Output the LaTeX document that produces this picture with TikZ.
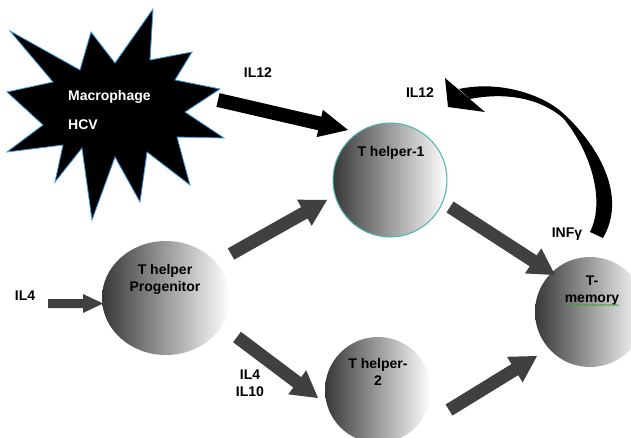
\documentclass[tikz,border=0pt]{standalone}
\usepackage{fontspec}
\setmainfont{Liberation Sans}
\usetikzlibrary{calc,shapes.geometric,decorations.pathmorphing}
\definecolor{arrgray}{HTML}{404040}
\definecolor{tealring}{HTML}{4BB5B5}
\definecolor{burstblue}{HTML}{3A9AE0}
\definecolor{spellgreen}{HTML}{3CA03C}
% #1 start, #2 tip, #3 half shaft width, #4 half head width, #5 head length, #6 colour
\newcommand\myblockarrow[6]{%
  \coordinate (bah) at ($(#2)!#5!(#1)$);
  \fill[#6] ($(#1)!#3!90:(#2)$) -- ($(bah)!#3!90:(#2)$) -- ($(bah)!#4!90:(#2)$) -- (#2)
    -- ($(bah)!#4!-90:(#2)$) -- ($(bah)!#3!-90:(#2)$) -- ($(#1)!#3!-90:(#2)$) -- cycle;}
\begin{document}
\begin{tikzpicture}[x=1pt,y=-1pt,
  lbl/.style={font=\fontsize{14}{17}\selectfont\bfseries, inner sep=0pt, align=center},
  cell/.style={inner sep=0pt, left color=black!78, middle color=black!38, right color=white}]
\useasboundingbox (0,0) rectangle (631,438);
\clip (0,0) rectangle (631,438);
\fill[white] (0,0) rectangle (631,438);

% starburst
\filldraw[fill=black, draw=burstblue, line width=0.8pt]
  (10,31) -- (80,70) -- (91,32) -- (115,63) -- (153,9) -- (150,60) -- (192,52)
  -- (175,80) -- (220,89) -- (185,112) -- (224,138) -- (177,137) -- (190,185)
  -- (147,152) -- (140,202) -- (115,157) -- (92,220) -- (82,148) -- (55,182)
  -- (63,145) -- (7,152) -- (43,125) -- (7,92) -- (53,82) -- cycle;
\node[lbl, white, anchor=west] (mac) at (68,97) {Macrophage};
\node[lbl, white, anchor=west] (hcv) at (68,125) {HCV};

% cells
\node[cell, circle, minimum size=114pt, draw=tealring, line width=1pt] (th1) at (390,180) {};
\node[cell, ellipse, minimum width=128pt, minimum height=114pt] (prog) at (166,298) {};
\node[cell, circle, minimum size=106pt] (th2) at (378,390) {};
\node[cell, circle, minimum size=110pt] (tmem) at (590,312) {};

\node[lbl] (th1t) at (391,153) {T helper-1};
\node[lbl] (progt) at (165,279) {T helper\\Progenitor};
\node[lbl] (th2t) at (378,372) {T helper-\\2};
\node[lbl] (tmemt) at (592,291) {T-\\memory};
\draw[spellgreen, line width=0.6pt, decorate,
  decoration={snake, amplitude=0.8pt, segment length=3pt}]
  (567,305) -- (619,305);

% arrow end points
\coordinate (a1s) at (218,100);  \coordinate (a1e) at (348,130);
\coordinate (a2s) at (48,303.5); \coordinate (a2e) at (103,303.5);
\coordinate (a3s) at (231,254);  \coordinate (a3e) at (327,200);
\coordinate (a4s) at (237,337);  \coordinate (a4e) at (318,398);
\coordinate (a5s) at (450,207);  \coordinate (a5e) at (555,275);
\coordinate (a6s) at (449,410);  \coordinate (a6e) at (537,356);

\myblockarrow{a1s}{a1e}{7pt}{14pt}{29pt}{black}
\myblockarrow{a2s}{a2e}{4.5pt}{9.5pt}{20pt}{arrgray}
\myblockarrow{a3s}{a3e}{6.5pt}{15pt}{26pt}{arrgray}
\myblockarrow{a4s}{a4e}{6.5pt}{15pt}{26pt}{arrgray}
\myblockarrow{a5s}{a5e}{6.5pt}{15pt}{26pt}{arrgray}
\myblockarrow{a6s}{a6e}{6.5pt}{15pt}{26pt}{arrgray}

% curved feedback arrow
\fill[black] (459,89) .. controls (500,80) and (545,95) .. (565,115)
  .. controls (597,145) and (628,195) .. (603,238) -- (590,232)
  .. controls (606,200) and (590,150) .. (563,118)
  .. controls (540,98) and (505,92) .. (470,99) -- cycle;
\fill[black] (445,78) -- (485,112) -- (448,107) -- cycle;

% labels
\node[lbl] (il12a) at (258,73) {IL12};
\node[lbl] (il12b) at (420,93) {IL12};
\node[lbl] (infg) at (567,234) {INFγ};
\node[lbl] (il4a) at (25,296) {IL4};
\node[lbl] (il4b) at (250,383) {IL4\\IL10};
\end{tikzpicture}
\end{document}
